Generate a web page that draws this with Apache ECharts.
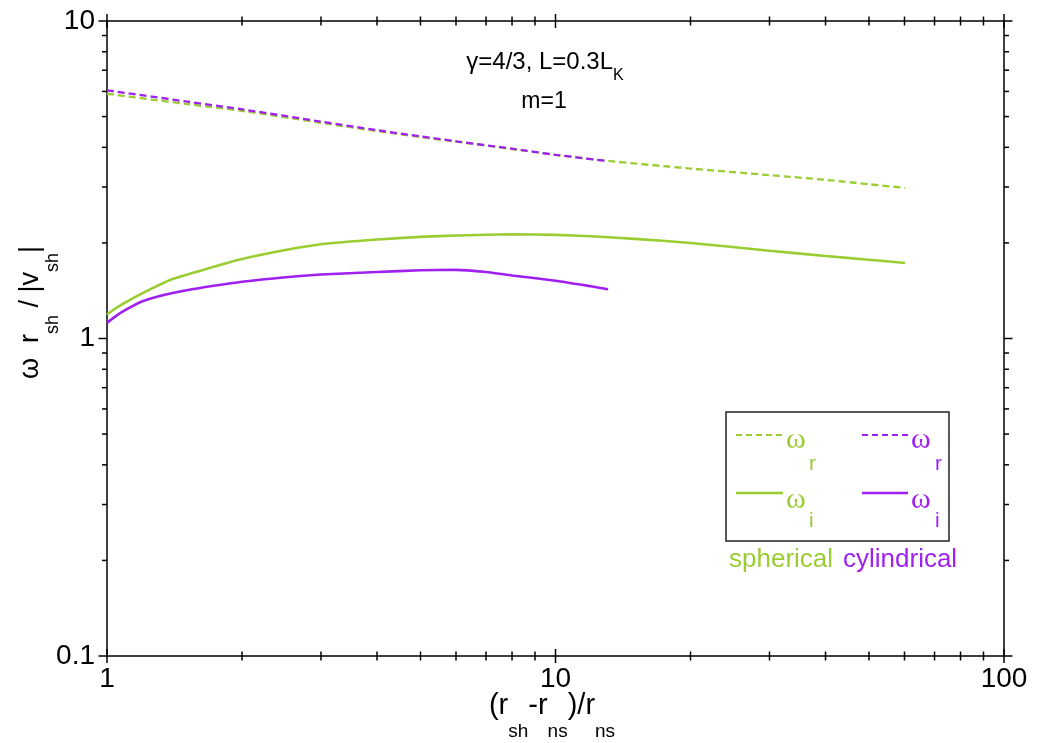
<!DOCTYPE html>
<html>
<head>
<meta charset="utf-8">
<script src="https://cdn.jsdelivr.net/npm/echarts@6/dist/echarts.min.js"></script>
<style>
html,body{margin:0;padding:0;background:#fff;}
#chart{width:1052px;height:743px;}
</style>
</head>
<body>
<div id="chart"></div>
<script>
// ---- data ----
const sphXr = [1, 1.5, 2, 3, 4, 5, 6, 8, 10, 13, 20, 30, 40, 50, 60.2];
const sphOmegaR = [5.90, 5.48, 5.21, 4.78, 4.50, 4.31, 4.17, 3.95, 3.79, 3.63, 3.43, 3.27, 3.16, 3.06, 2.98];

const cylXr = [1, 1.5, 2, 3, 4, 5, 6, 8, 10, 13.1];
const cylOmegaR = [6.05, 5.58, 5.27, 4.82, 4.53, 4.33, 4.18, 3.96, 3.79, 3.62];

const sphXi = [1, 1.05, 1.1, 1.2, 1.4, 1.7, 2, 2.5, 3, 4, 5, 6, 8, 10, 12, 15, 20, 30, 40, 50, 60.2];
const sphOmegaI = [1.19, 1.25, 1.30, 1.39, 1.54, 1.67, 1.78, 1.90, 1.98, 2.05, 2.09, 2.11, 2.13, 2.12, 2.10, 2.06, 2.00, 1.89, 1.82, 1.77, 1.73];

const cylXi = [1, 1.05, 1.1, 1.2, 1.4, 1.7, 2, 2.5, 3, 4, 5, 6, 7, 8, 10, 12, 13.1];
const cylOmegaI = [1.12, 1.18, 1.23, 1.31, 1.39, 1.46, 1.51, 1.56, 1.59, 1.62, 1.64, 1.645, 1.62, 1.58, 1.52, 1.46, 1.43];

const xRange = [1, 100];
const yRange = [0.1, 10];
const xMajorTicks = [1, 10, 100];
const xMinorTicks = [2, 3, 4, 5, 6, 7, 8, 9, 20, 30, 40, 50, 60, 70, 80, 90];
const yMajorTicks = [0.1, 1, 10];
const yMinorTicks = [0.2, 0.3, 0.4, 0.5, 0.6, 0.7, 0.8, 0.9, 2, 3, 4, 5, 6, 7, 8, 9];

// ---- styling ----
const GREEN = '#9ACD32';
const PURPLE = '#A020F0';
const FONT = 'Liberation Sans';

function zip(xs, ys) { return xs.map((x, i) => [x, ys[i]]); }

const chart = echarts.init(document.getElementById('chart'), null, {renderer: 'canvas'});

const axisLine = {show: true, lineStyle: {color: '#000', width: 1.5}};

function xTickItem(params, api) {
  const v = api.value(0), major = api.value(2);
  const b = api.coord([v, yRange[0]]);
  const t = api.coord([v, yRange[1]]);
  const h = major ? 7 : 4.5;
  const st = {stroke: '#000', lineWidth: 1.5};
  return {type: 'group', children: [
    {type: 'line', shape: {x1: b[0], y1: b[1] - h, x2: b[0], y2: b[1] + h}, style: st},
    {type: 'line', shape: {x1: t[0], y1: t[1] - h, x2: t[0], y2: t[1] + h}, style: st}
  ]};
}
function yTickItem(params, api) {
  const v = api.value(1), major = api.value(2);
  const l = api.coord([xRange[0], v]);
  const r = api.coord([xRange[1], v]);
  const h = major ? 8.5 : 5;
  const st = {stroke: '#000', lineWidth: 1.5};
  return {type: 'group', children: [
    {type: 'line', shape: {x1: l[0] - h, y1: l[1], x2: l[0], y2: l[1]}, style: st},
    {type: 'line', shape: {x1: r[0], y1: r[1], x2: r[0] + h, y2: r[1]}, style: st}
  ]};
}

const option = {
  backgroundColor: '#fff',
  animation: false,
  grid: {left: 107, right: 48, top: 21, bottom: 87, containLabel: false},
  xAxis: [
    {type: 'log', logBase: 10, min: xRange[0], max: xRange[1], position: 'bottom',
     axisLine: axisLine, axisTick: {show: false}, splitLine: {show: false},
     axisLabel: {fontFamily: FONT, fontSize: 28, color: '#000', margin: 9}},
    {type: 'log', logBase: 10, min: xRange[0], max: xRange[1], position: 'top',
     axisLine: axisLine, axisTick: {show: false}, splitLine: {show: false}, axisLabel: {show: false}}
  ],
  yAxis: [
    {type: 'log', logBase: 10, min: yRange[0], max: yRange[1], position: 'left',
     axisLine: axisLine, axisTick: {show: false}, splitLine: {show: false},
     axisLabel: {fontFamily: FONT, fontSize: 28, color: '#000', margin: 12}},
    {type: 'log', logBase: 10, min: yRange[0], max: yRange[1], position: 'right',
     axisLine: axisLine, axisTick: {show: false}, splitLine: {show: false}, axisLabel: {show: false}}
  ],
  series: [
    {name: 'spherical ωr', type: 'line', data: zip(sphXr, sphOmegaR), showSymbol: false, smooth: 0.3,
     lineStyle: {color: GREEN, width: 2.3, type: [7, 4]}, z: 3},
    {name: 'spherical ωi', type: 'line', data: zip(sphXi, sphOmegaI), showSymbol: false, smooth: 0.2,
     lineStyle: {color: GREEN, width: 2.6}, z: 3},
    {name: 'cylindrical ωr', type: 'line', data: zip(cylXr, cylOmegaR), showSymbol: false, smooth: 0.3,
     lineStyle: {color: PURPLE, width: 2.3, type: [7, 4]}, z: 4},
    {name: 'cylindrical ωi', type: 'line', data: zip(cylXi, cylOmegaI), showSymbol: false, smooth: 0.2,
     lineStyle: {color: PURPLE, width: 2.6}, z: 4},
    {type: 'custom', silent: true, clip: false, z: 6, renderItem: xTickItem,
     encode: {x: 0, y: 1},
     data: xMajorTicks.map(v => [v, 1, 1]).concat(xMinorTicks.map(v => [v, 1, 0]))},
    {type: 'custom', silent: true, clip: false, z: 6, renderItem: yTickItem,
     encode: {x: 0, y: 1},
     data: yMajorTicks.map(v => [1, v, 1]).concat(yMinorTicks.map(v => [1, v, 0]))}
  ],
  graphic: [
    // annotations
    {type: 'text', x: 545, y: 62, style: {
      text: 'γ=4/3, L=0.3L{s|K}', align: 'center', verticalAlign: 'middle',
      fontFamily: FONT, fontSize: 24, fill: '#000',
      rich: {s: {fontFamily: FONT, fontSize: 16, fill: '#000', padding: [28, 0, 0, 0]}}
    }},
    {type: 'text', x: 544, y: 102, style: {
      text: 'm=1', align: 'center', verticalAlign: 'middle',
      fontFamily: FONT, fontSize: 23, fill: '#000'
    }},
    // x axis title
    {type: 'text', x: 552, y: 706, style: {
      text: '(r{s|sh}-r{s|ns})/r{s|ns}', align: 'center', verticalAlign: 'middle',
      fontFamily: FONT, fontSize: 29, fill: '#000',
      rich: {s: {fontFamily: FONT, fontSize: 19, fill: '#000', padding: [52, 0, 0, 0]}}
    }},
    // y axis title
    {type: 'text', x: 30.6, y: 312.5, rotation: Math.PI / 2, style: {
      text: 'ω  r{s|sh} / |v{s|sh}|', align: 'center', verticalAlign: 'middle',
      fontFamily: FONT, fontSize: 27, fill: '#000',
      rich: {s: {fontFamily: FONT, fontSize: 18, fill: '#000', padding: [44, 0, 0, 0]}}
    }},
    // legend box
    {type: 'rect', shape: {x: 726, y: 412, width: 223, height: 129},
     style: {fill: 'none', stroke: '#222', lineWidth: 1.5}},
    {type: 'line', shape: {x1: 736, y1: 435, x2: 783, y2: 435}, style: {stroke: GREEN, lineWidth: 2.2, lineDash: [6, 4]}},
    {type: 'line', shape: {x1: 736, y1: 493, x2: 783, y2: 493}, style: {stroke: GREEN, lineWidth: 2.4}},
    {type: 'line', shape: {x1: 862, y1: 435, x2: 908, y2: 435}, style: {stroke: PURPLE, lineWidth: 2.2, lineDash: [6, 4]}},
    {type: 'line', shape: {x1: 862, y1: 493, x2: 908, y2: 493}, style: {stroke: PURPLE, lineWidth: 2.4}},
    {type: 'text', x: 786, y: 440, style: {text: 'ω', fontFamily: 'Liberation Serif', fontSize: 30, fill: GREEN, verticalAlign: 'middle'}},
    {type: 'text', x: 809, y: 464, style: {text: 'r', fontFamily: FONT, fontSize: 21, fill: GREEN, verticalAlign: 'middle'}},
    {type: 'text', x: 786, y: 500, style: {text: 'ω', fontFamily: 'Liberation Serif', fontSize: 30, fill: GREEN, verticalAlign: 'middle'}},
    {type: 'text', x: 809, y: 521, style: {text: 'i', fontFamily: FONT, fontSize: 21, fill: GREEN, verticalAlign: 'middle'}},
    {type: 'text', x: 911, y: 440, style: {text: 'ω', fontFamily: 'Liberation Serif', fontSize: 30, fill: PURPLE, verticalAlign: 'middle'}},
    {type: 'text', x: 935, y: 464, style: {text: 'r', fontFamily: FONT, fontSize: 21, fill: PURPLE, verticalAlign: 'middle'}},
    {type: 'text', x: 911, y: 500, style: {text: 'ω', fontFamily: 'Liberation Serif', fontSize: 30, fill: PURPLE, verticalAlign: 'middle'}},
    {type: 'text', x: 935, y: 521, style: {text: 'i', fontFamily: FONT, fontSize: 21, fill: PURPLE, verticalAlign: 'middle'}},
    {type: 'text', x: 729, y: 559.5, style: {text: 'spherical', fontFamily: FONT, fontSize: 26, fill: GREEN, verticalAlign: 'middle'}},
    {type: 'text', x: 843, y: 559.5, style: {text: 'cylindrical', fontFamily: FONT, fontSize: 26, fill: PURPLE, verticalAlign: 'middle'}}
  ]
};
chart.setOption(option);
</script>
</body>
</html>
